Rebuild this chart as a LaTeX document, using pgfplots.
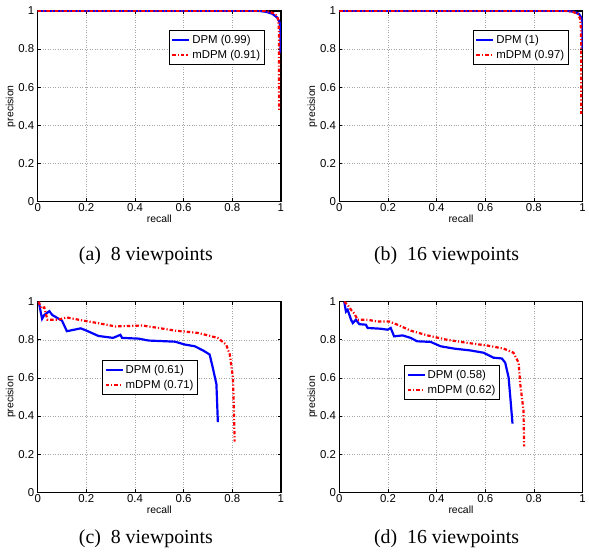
\documentclass[border=0pt]{standalone}
\usepackage{fontspec}
\setmainfont{Liberation Serif}
\newfontfamily\helv{Liberation Sans}
\usepackage{pgfplots}
\pgfplotsset{compat=1.18}

\definecolor{dpmblue}{RGB}{0,0,255}
\definecolor{mdpmred}{RGB}{255,0,0}

\pgfplotsset{
  prplot/.style={
    scale only axis,
    width=245pt, height=192pt,
    xmin=0, xmax=1, ymin=0, ymax=1,
    xtick={0,0.2,...,1}, ytick={0,0.2,...,1},
    grid=major,
    major grid style={draw=black!35, line width=0.5pt, dotted},
    axis line style={line width=1.4pt},
    tick style={black, line width=0.6pt},
    major tick length=3pt,
    tick align=inside,
    /pgf/number format/assume math mode=true,
    ticklabel style={font=\helv\fontsize{11.5}{13}\selectfont},
    xticklabel style={yshift=1.5pt},
    label style={font=\helv\fontsize{10.5}{12}\selectfont},
    xlabel={recall}, ylabel={precision},
    xlabel style={yshift=3pt},
    ylabel style={yshift=-4pt},
    legend style={font=\helv\fontsize{11.5}{14}\selectfont, draw=black, line width=1pt,
      fill=white, inner xsep=2pt, inner ysep=3pt, row sep=1pt},
    legend cell align=left,
    legend image code/.code={\draw[#1] (0pt,0pt) -- (17pt,0pt);},
  },
  dpm/.style={dpmblue, line width=2.2pt, solid},
  mdpm/.style={mdpmred, line width=2.2pt, dash pattern=on 3.5pt off 2pt on 1.2pt off 2pt},
}

\begin{document}
\begin{tikzpicture}
\path (0pt,0pt) rectangle (589pt,559pt);

% (a) 8 viewpoints
\begin{axis}[prplot, at={(38pt,356pt)},
  legend style={at={(0.539,0.90)}, anchor=north west}]
\addplot[dpm] coordinates {(0,1) (0.91,1) (0.94,0.995) (0.965,0.985) (0.985,0.965) (0.995,0.94) (0.998,0.9) (0.998,0.78)};
\addplot[mdpm] coordinates {(0,1) (0.93,1) (0.955,0.995) (0.975,0.985) (0.985,0.97) (0.99,0.95) (0.992,0.9) (0.993,0.47)};
\legend{DPM (0.99), mDPM (0.91)}
\end{axis}

% (b) 16 viewpoints
\begin{axis}[prplot, at={(342pt,356pt)},
  legend style={at={(0.549,0.90)}, anchor=north west}]
\addplot[dpm] coordinates {(0,1) (0.94,1) (0.965,0.995) (0.985,0.985) (0.995,0.965) (1,0.94) (1,0.8)};
\addplot[mdpm] coordinates {(0,1) (0.93,1) (0.96,0.995) (0.98,0.985) (0.99,0.96) (0.994,0.9) (0.995,0.46)};
\legend{DPM (1), mDPM (0.97)}
\end{axis}

% (c) 8 viewpoints
\begin{axis}[prplot, at={(38pt,63pt)},
  legend style={at={(0.265,0.694)}, anchor=north west}]
\addplot[dpm] coordinates {(0.004,1) (0.018,0.91) (0.027,0.93) (0.048,0.95) (0.06,0.93) (0.10,0.90) (0.12,0.845) (0.177,0.86) (0.197,0.85) (0.25,0.82) (0.31,0.81) (0.34,0.826) (0.347,0.81) (0.415,0.806) (0.456,0.796) (0.565,0.79) (0.605,0.775) (0.646,0.766) (0.68,0.744) (0.707,0.723) (0.72,0.654) (0.735,0.567) (0.741,0.368)};
\addplot[mdpm] coordinates {(0.004,1) (0.014,0.965) (0.027,0.97) (0.04,0.905) (0.08,0.905) (0.12,0.917) (0.19,0.90) (0.25,0.887) (0.32,0.87) (0.43,0.875) (0.497,0.862) (0.565,0.848) (0.66,0.836) (0.74,0.81) (0.775,0.775) (0.79,0.723) (0.803,0.60) (0.807,0.43) (0.81,0.265)};
\legend{DPM (0.61), mDPM (0.71)}
\end{axis}

% (d) 16 viewpoints
\begin{axis}[prplot, at={(342pt,63pt)},
  legend style={at={(0.266,0.668)}, anchor=north west}]
\addplot[dpm] coordinates {(0.02,1) (0.027,0.948) (0.034,0.957) (0.048,0.905) (0.055,0.888) (0.068,0.905) (0.082,0.882) (0.109,0.879) (0.116,0.862) (0.17,0.858) (0.198,0.853) (0.211,0.862) (0.225,0.818) (0.26,0.823) (0.293,0.81) (0.32,0.792) (0.375,0.789) (0.416,0.766) (0.47,0.754) (0.539,0.744) (0.593,0.732) (0.634,0.706) (0.668,0.702) (0.682,0.68) (0.696,0.602) (0.703,0.498) (0.712,0.36)};
\addplot[mdpm] coordinates {(0.02,1) (0.034,0.983) (0.048,0.957) (0.061,0.939) (0.075,0.905) (0.116,0.905) (0.157,0.896) (0.205,0.896) (0.239,0.879) (0.293,0.848) (0.362,0.823) (0.443,0.80) (0.525,0.784) (0.607,0.77) (0.675,0.754) (0.716,0.732) (0.737,0.68) (0.744,0.567) (0.757,0.43) (0.76,0.24)};
\legend{DPM (0.58), mDPM (0.62)}
\end{axis}

\node[font=\fontsize{20}{24}\selectfont] at (147pt,301pt) {(a)\ \ 8 viewpoints};
\node[font=\fontsize{20}{24}\selectfont] at (450pt,301pt) {(b)\ \ 16 viewpoints};
\node[font=\fontsize{20}{24}\selectfont] at (147pt,16pt) {(c)\ \ 8 viewpoints};
\node[font=\fontsize{20}{24}\selectfont] at (450pt,16pt) {(d)\ \ 16 viewpoints};
\end{tikzpicture}
\end{document}
